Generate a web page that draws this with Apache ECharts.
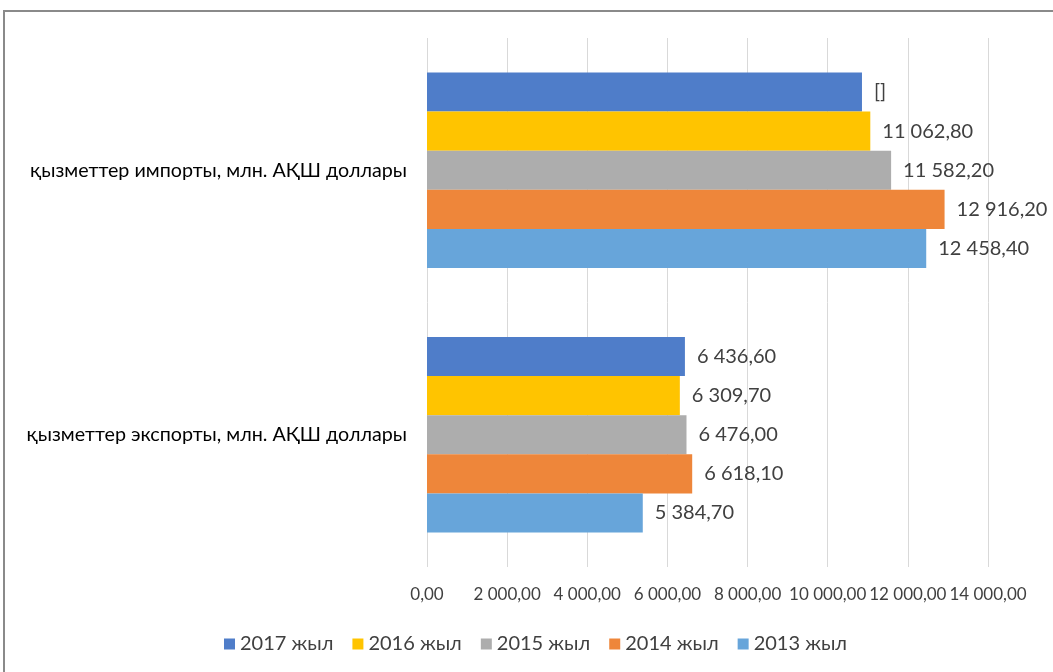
<!DOCTYPE html>
<html><head><meta charset="utf-8">
<script src="https://cdn.jsdelivr.net/npm/echarts@6/dist/echarts.min.js"></script>
<style>html,body{margin:0;padding:0;background:#fff}#c{width:1053px;height:672px}</style>
</head><body><div id="c"></div>
<script>
const categories = ['қызметтер экспорты, млн. АҚШ доллары', 'қызметтер импорты, млн. АҚШ доллары'];
const seriesNames = ['2017 жыл', '2016 жыл', '2015 жыл', '2014 жыл', '2013 жыл'];
const v2017 = [6436.6, 10855];
const v2016 = [6309.7, 11062.8];
const v2015 = [6476.0, 11582.2];
const v2014 = [6618.1, 12916.2];
const v2013 = [5384.7, 12458.4];
const labels2017 = [null, '[]'];
const colors = ['#4F7DC9', '#FFC400', '#ADADAD', '#EE863A', '#67A5DA'];
const xTicks = [0, 2000, 4000, 6000, 8000, 10000, 12000, 14000];

const values = [v2017, v2016, v2015, v2014, v2013];
const FONT = 'Lato, "Open Sans", sans-serif';
function fmt(v) {
  const s = v.toFixed(2).split('.');
  const int = s[0].replace(/\B(?=(\d{3})+(?!\d))/g, ' ');
  return int + ',' + s[1];
}
const chart = echarts.init(document.getElementById('c'), null, {renderer: 'canvas'});
chart.setOption({
  animation: false,
  graphic: [{type: 'rect', shape: {x: 4, y: 11, width: 1200, height: 800},
    style: {fill: 'none', stroke: '#8a8a8a', lineWidth: 2}, z: 0}],
  grid: {left: 427, right: 65, top: 38, bottom: 105},
  legend: {
    data: seriesNames, bottom: 13, left: 219, itemWidth: 11, itemHeight: 11, itemGap: 19,
    icon: 'rect', textStyle: {fontFamily: FONT, fontSize: 20, color: '#404040'}
  },
  xAxis: {
    type: 'value', min: xTicks[0], max: xTicks[xTicks.length - 1], interval: 2000,
    axisLine: {show: false}, axisTick: {show: false},
    splitLine: {lineStyle: {color: '#D9D9D9'}},
    axisLabel: {formatter: v => fmt(v), fontFamily: FONT, fontSize: 17, color: '#404040', margin: 19,
      hideOverlap: false, showMinLabel: true, showMaxLabel: true}
  },
  yAxis: {
    type: 'category', data: categories,
    axisLine: {show: false}, axisTick: {show: false},
    axisLabel: {fontFamily: FONT, fontSize: 19.7, color: '#000', margin: 20}
  },
  series: seriesNames.map((n, i) => ({
    name: n, type: 'bar', barGap: '0%', barCategoryGap: '26%',
    itemStyle: {color: colors[i]},
    data: values[i],
    label: {
      show: true, position: 'right', distance: 12, fontFamily: FONT, fontSize: 20, color: '#404040',
      formatter: p => (i === 0 && labels2017[p.dataIndex]) ? labels2017[p.dataIndex] : fmt(p.value)
    }
  }))
});
</script></body></html>
